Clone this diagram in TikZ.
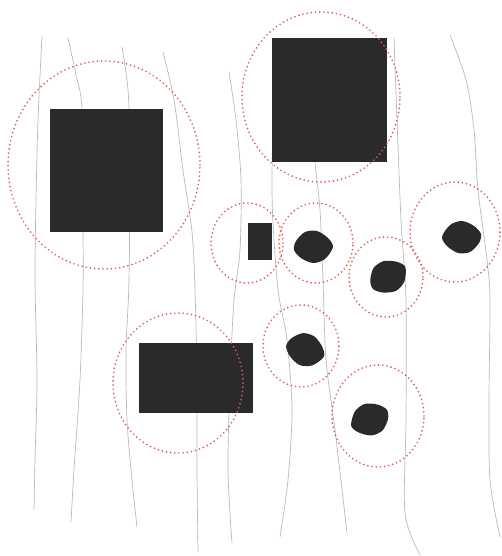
\documentclass[tikz,border=0pt]{standalone}
\usepackage{tikz}
\definecolor{ringred}{RGB}{228,90,90}
\definecolor{blockgray}{RGB}{42,42,42}

\begin{document}
\begin{tikzpicture}[x=1pt,y=-1pt,
	stem/.style={gray!55,line width=0.7pt},
	block/.style={fill=blockgray},
	ring/.style={ringred,line width=1.9pt,line cap=round,dash pattern=on 0pt off 4.2pt}]
	\useasboundingbox (0,0) rectangle (501,556);
	\draw[stem] plot[smooth] coordinates {(42,36) (38,120) (36,200) (35,280) (37,380) (35,460) (34,510)};
	\draw[stem] plot[smooth] coordinates {(68,38) (76,75) (82,110) (83,232) (83,290) (80,380) (74,470) (71,522)};
	\draw[stem] plot[smooth] coordinates {(122,47) (128,90) (130,150) (129,280) (126,350) (127,420) (132,480) (137,527)};
	\draw[stem] plot[smooth] coordinates {(163,52) (174,100) (183,170) (192,232) (195,290) (197,380) (197,470) (198,552)};
	\draw[stem] plot[smooth] coordinates {(229,72) (236,120) (241,180) (240,250) (234,300) (230,380) (228,470) (232,543)};
	\draw[stem] plot[smooth] coordinates {(273,120) (272,180) (273,223) (278,290) (287,340) (292,410) (288,480) (280,537)};
	\draw[stem] plot[smooth] coordinates {(312,120) (315,162) (320,210) (323,280) (326,360) (335,430) (347,533)};
	\draw[stem] plot[smooth] coordinates {(394,38) (397,120) (401,220) (406,300) (406,420) (405,513) (420,555)};
	\draw[stem] plot[smooth] coordinates {(450,35) (466,80) (474,130) (478,190) (487,260) (490,300) (489,400) (490,480) (500,537)};
	\fill[block] (50,109) rectangle (163,232);
	\fill[block] (272,38) rectangle (387,162);
	\fill[block] (248,223) rectangle (272,260);
	\fill[block] (139,343) rectangle (253,413);
	\foreach \x/\y/\r in {313/247/0, 388/277/30, 462/237/180, 305/350/-20, 370/419/200} {
		\fill[block,shift={(\x,\y)},rotate=\r] plot[smooth cycle] coordinates {(-17,-6) (-8,-15) (4,-16) (15,-9) (20,0) (12,12) (0,16) (-12,11) (-19,3)};
	}
	\foreach \x/\y/\a/\b in {104/165/96/104, 321/97/79/85, 247/243/36/40, 316/243/37/40, 386/277/37/40, 455/232/45/50, 301/346/38/41, 378/416/46/51, 178/383/65/70}
		\draw[ring] (\x,\y) ellipse [x radius=\a pt, y radius=\b pt];
\end{tikzpicture}
\end{document}
